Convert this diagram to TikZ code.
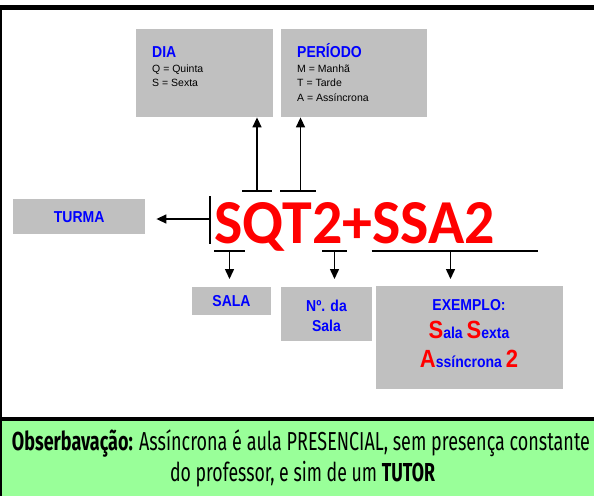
\documentclass[tikz,border=0pt]{standalone}
\usepackage{fontspec}
\setmainfont{Liberation Sans}
\newfontfamily\calib{Carlito}
\newfontfamily\agency{Fira Sans}
\usetikzlibrary{arrows.meta}
\definecolor{gbox}{HTML}{C0C0C0}
\definecolor{myblue}{HTML}{0000FF}
\definecolor{myred}{HTML}{FF0000}
\definecolor{mygreen}{HTML}{99FF99}
\newcommand{\bigR}[1]{{\color{myred}\fontsize{22}{24}\selectfont #1}}
\newcommand{\tall}[1]{\scalebox{1}[1.13]{#1}}
\begin{document}
\begin{tikzpicture}[x=1pt,y=-1pt,
  greybox/.style={fill=gbox, draw=none, inner sep=0pt, anchor=north west},
  head/.style={font=\fontsize{14}{16}\selectfont\bfseries, text=myblue, inner sep=0pt},
  body/.style={font=\fontsize{10.5}{12}\selectfont, inner sep=0pt, anchor=base west},
  arr/.style={line width=1.5pt, -{Triangle[width=9pt,length=10pt]}},
  bar/.style={line width=1.5pt},
]
\useasboundingbox (0,0) rectangle (594,496);
\fill[white] (0,0) rectangle (594,496);
% frame and green panel
\fill[mygreen] (2,421) rectangle (594,496);
\draw[line width=5pt] (0,7.5) -- (594,7.5);
\draw[line width=2pt] (1,5) -- (1,496);
\draw[line width=4.5pt] (0,419) -- (594,419);

% top boxes
\node[greybox, minimum width=137pt, minimum height=88pt] (dia) at (136,29) {};
\node[greybox, minimum width=146pt, minimum height=88pt] (per) at (281,29) {};
\node[head, anchor=base west] (diah) at (152,57) {\tall{DIA}};
\node[body] (diaq) at (152,72) {Q = Quinta};
\node[body] (dias) at (152,86.5) {S = Sexta};
\node[head, anchor=base west] (perh) at (297,57) {\tall{PERÍODO}};
\node[body] (perm) at (297,72) {M = Manhã};
\node[body] (pert) at (297,86.5) {T = Tarde};
\node[body] (pera) at (297,101) {A = Assíncrona};

% TURMA
\node[greybox, minimum width=132pt, minimum height=35pt] (turma) at (13,199) {};
\node[head] (turmat) at (turma.center) {\tall{TURMA}};

% main code
\node[anchor=base west, inner sep=0pt, text=myred, font=\calib\bfseries\fontsize{59}{60}\selectfont] (code) at (214,243) {\scalebox{1.015}[1.06]{SQT2+SSA2}};

% bottom boxes
\node[greybox, minimum width=79pt, minimum height=28pt] (sala) at (192,287) {};
\node[head, anchor=base] (salat) at (231.5,306) {\tall{SALA}};
\node[greybox, minimum width=91pt, minimum height=54pt] (num) at (281,287) {};
\node[head, anchor=base] (numa) at (326.5,311.5) {\tall{Nº. da}};
\node[head, anchor=base] (numb) at (326.5,331) {\tall{Sala}};
\node[greybox, minimum width=187pt, minimum height=103pt] (ex) at (376,286) {};
\node[head, anchor=base] (exa) at (469,310) {\tall{EXEMPLO:}};
\node[head, anchor=base] (exb) at (469,338) {\tall{\bigR{S}ala \bigR{S}exta}};
\node[head, anchor=base] (exc) at (469,367) {\tall{\bigR{A}ssíncrona \bigR{2}}};

% left bar and TURMA arrow
\coordinate (lb) at (210,196);
\coordinate (lbe) at (210,244);
\draw[line width=1.3pt] (lb) -- (lbe);
\coordinate (tl) at (210,219);
\draw[arr] (tl) -- ([xshift=11pt]turma.east |- tl);

% top brackets
\coordinate (t1) at (257,191);
\draw[bar] ([xshift=-15pt]t1) -- ([xshift=15pt]t1);
\draw[arr] (t1) -- (t1 |- dia.south);
\coordinate (t2) at (300.5,191);
\draw[bar] ([xshift=-20.5pt]t2) -- ([xshift=15.5pt]t2);
\draw[arr] (t2) -- (t2 |- per.south);

% bottom brackets
\coordinate (u1) at (229.5,251);
\draw[bar] ([xshift=-15.5pt]u1) -- ([xshift=15.5pt]u1);
\draw[arr] (u1) -- ([yshift=8pt]u1 |- sala.north);
\coordinate (u2) at (334.5,251);
\draw[bar] ([xshift=-12.5pt]u2) -- ([xshift=12.5pt]u2);
\draw[arr] (u2) -- ([yshift=8pt]u2 |- num.north);
\coordinate (u3) at (450.5,251);
\draw[bar] ([xshift=-79pt]u3) -- ([xshift=87.5pt]u3);
\draw[arr] (u3) -- ([yshift=7pt]u3 |- ex.north);

% observation text
\node[anchor=base, inner sep=0pt] (obs1) at (301,450) {\resizebox{578pt}{\height}{\agency\fontsize{26}{28}\selectfont\textbf{Obserbavação:} Assíncrona é aula PRESENCIAL, sem presença constante}};
\node[anchor=base, inner sep=0pt] (obs2) at (302.5,481) {\resizebox{265pt}{\height}{\agency\fontsize{26}{28}\selectfont do professor, e sim de um \textbf{TUTOR}}};
\end{tikzpicture}
\end{document}
